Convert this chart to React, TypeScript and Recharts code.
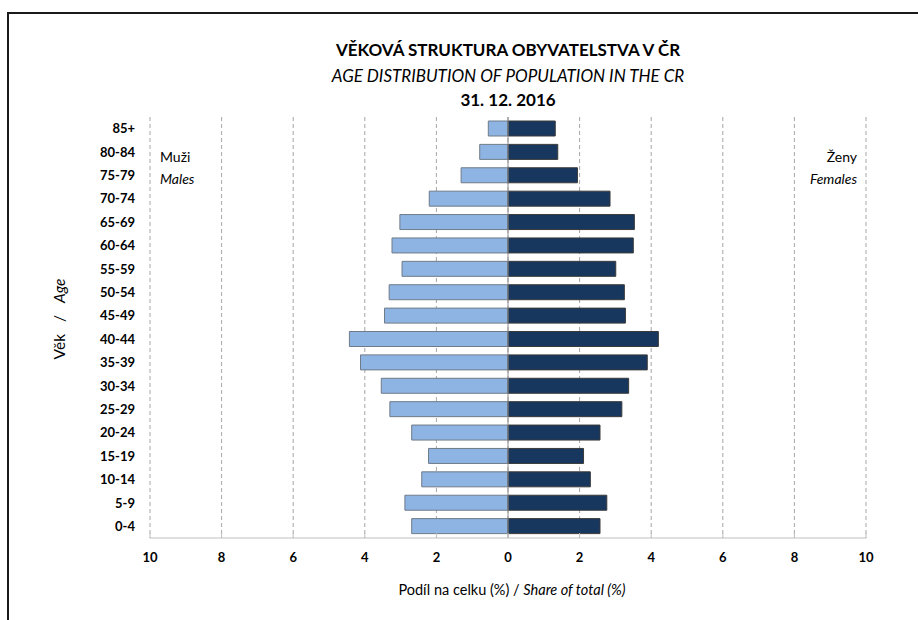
import * as React from 'react';
import {
  BarChart,
  Bar,
  XAxis,
  YAxis,
  CartesianGrid,
  ReferenceLine,
} from 'recharts';

// age groups bottom -> top, values in % of total population (31. 12. 2016)
const AGE_GROUPS = [
  '0-4', '5-9', '10-14', '15-19', '20-24', '25-29', '30-34', '35-39', '40-44',
  '45-49', '50-54', '55-59', '60-64', '65-69', '70-74', '75-79', '80-84', '85+',
];
const MALES = [
  2.69, 2.88, 2.41, 2.22, 2.69, 3.30, 3.54, 4.12, 4.43,
  3.45, 3.32, 2.96, 3.24, 3.02, 2.20, 1.31, 0.79, 0.55,
];
const FEMALES = [
  2.57, 2.76, 2.30, 2.11, 2.57, 3.18, 3.37, 3.89, 4.20,
  3.28, 3.25, 3.01, 3.50, 3.53, 2.85, 1.94, 1.39, 1.32,
];
const X_TICKS = [-10, -8, -6, -4, -2, 0, 2, 4, 6, 8, 10];

const FONT = 'Lato, "Open Sans", sans-serif';
const MALE_FILL = '#8db4e2';
const FEMALE_FILL = '#17375e';

export default function App() {
  // males go left, so they are stored negative; stackOffset="sign" keeps both halves at 0
  const data = AGE_GROUPS.map((age, i) => ({
    age,
    males: -MALES[i],
    females: FEMALES[i],
  }));

  return (
    <div style={{ position: 'absolute', left: 0, top: 0, width: 918, height: 620, background: '#fff' }}>
      <BarChart
        width={918}
        height={620}
        data={data}
        layout="vertical"
        stackOffset="sign"
        barSize={15}
        margin={{ top: 117, right: 52, bottom: 52, left: 50 }}
      >
        <CartesianGrid horizontal={false} stroke="#a6a6a6" strokeDasharray="4 3" />
        <XAxis
          type="number"
          domain={[-10, 10]}
          ticks={X_TICKS}
          tickFormatter={(v: number) => String(Math.abs(v))}
          height={30}
          axisLine={{ stroke: '#bfbfbf' }}
          tickLine={{ stroke: '#bfbfbf' }}
          tickSize={-5}
          tickMargin={20}
          tick={{ fill: '#000', fontSize: 13, fontWeight: 700, fontFamily: FONT }}
        />
        <YAxis
          type="category"
          dataKey="age"
          reversed
          width={100}
          axisLine={false}
          tickLine={false}
          tickSize={0}
          tickMargin={15}
          interval={0}
          tick={{ fill: '#000', fontSize: 13, fontWeight: 700, fontFamily: FONT }}
        />
        <ReferenceLine x={0} stroke="#8c8c8c" />
        <Bar
          dataKey="males"
          stackId="pyr"
          fill={MALE_FILL}
          stroke="#6f7b89"
          strokeWidth={1}
          isAnimationActive={false}
        />
        <Bar
          dataKey="females"
          stackId="pyr"
          fill={FEMALE_FILL}
          stroke="#3a3a3a"
          strokeWidth={1}
          isAnimationActive={false}
        />
      </BarChart>

      <svg
        width={918}
        height={620}
        style={{ position: 'absolute', left: 0, top: 0, pointerEvents: 'none' }}
        fontFamily={FONT}
      >
        <path d="M8 620 V13 H918" fill="none" stroke="#1a1a1a" strokeWidth={2} />

        <text x={508} y={56} textAnchor="middle" fontSize={17} fontWeight={700}>
          VĚKOVÁ STRUKTURA OBYVATELSTVA V ČR
        </text>
        <text x={508} y={82} textAnchor="middle" fontSize={17} fontStyle="italic">
          AGE DISTRIBUTION OF POPULATION IN THE CR
        </text>
        <text x={508} y={106} textAnchor="middle" fontSize={17} fontWeight={700}>
          31. 12. 2016
        </text>

        <text x={160} y={162} fontSize={14}>Muži</text>
        <text x={160} y={184} fontSize={14} fontStyle="italic">Males</text>
        <text x={857} y={162} fontSize={14} textAnchor="end">Ženy</text>
        <text x={857} y={184} fontSize={14} textAnchor="end" fontStyle="italic">Females</text>

        <text x={512} y={595} textAnchor="middle" fontSize={14.5}>
          Podíl na celku (%) / <tspan fontStyle="italic">Share of total (%)</tspan>
        </text>
        <text
          x={65}
          y={319}
          textAnchor="middle"
          fontSize={15.5}
          transform="rotate(-90 65 319)"
          xmlSpace="preserve"
        >
          <tspan>Věk</tspan>
          {'   /   '}
          <tspan fontStyle="italic">Age</tspan>
        </text>
      </svg>
    </div>
  );
}
